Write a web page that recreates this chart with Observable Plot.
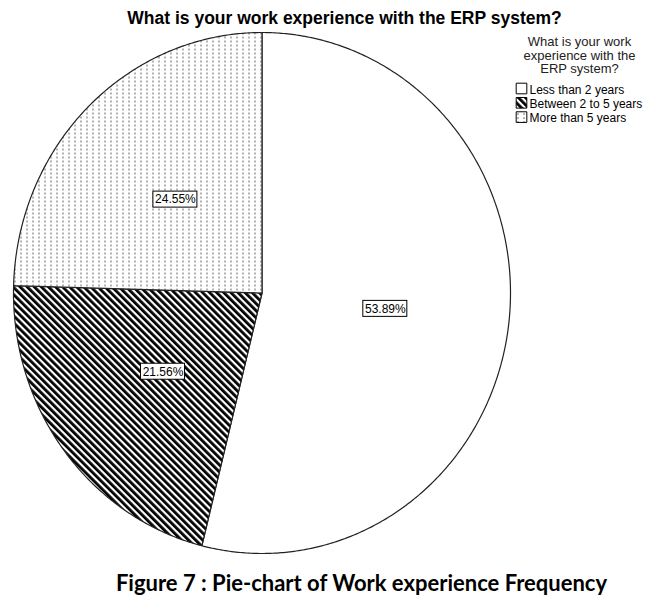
<!DOCTYPE html>
<html><head><meta charset="utf-8">
<script src="https://cdn.jsdelivr.net/npm/d3@7"></script>
<script src="https://cdn.jsdelivr.net/npm/@observablehq/plot@0.6"></script>
<style>body{margin:0;background:#fff}</style>
</head><body><div id="chart"></div>
<script>
const categories = ["Less than 2 years", "Between 2 to 5 years", "More than 5 years"];
const percents = [53.89, 21.56, 24.55];
const patterns = ["white", "url(#hatch)", "url(#dots)"];
const chartTitle = "What is your work experience with the ERP system?";
const legendTitle = "What is your work\nexperience with the\nERP system?";
const caption = "Figure 7 : Pie-chart of Work experience Frequency";

let cum = 0;
const slices = categories.map((c, i) => {
  const a0 = cum / 100 * 2 * Math.PI; cum += percents[i];
  const a1 = cum / 100 * 2 * Math.PI;
  return {category: c, value: percents[i], a0, a1, fill: patterns[i]};
});
function slicePoints(s) {
  const pts = [{x: 0, y: 0}];
  const n = Math.max(2, Math.ceil((s.a1 - s.a0) / (Math.PI / 360)));
  for (let k = 0; k <= n; k++) {
    const a = s.a0 + (s.a1 - s.a0) * k / n;
    pts.push({x: Math.sin(a), y: -Math.cos(a)});
  }
  pts.push({x: 0, y: 0});
  return pts;
}
const labels = slices.map(s => {
  const m = (s.a0 + s.a1) / 2;
  return {x: 0.5 * Math.sin(m), y: -0.5 * Math.cos(m), text: s.value.toFixed(2) + "%"};
});

const marks = [];
slices.forEach(s => marks.push(Plot.line(slicePoints(s), {x: "x", y: "y", fill: s.fill, stroke: "#222", strokeWidth: 1.2, strokeLinejoin: "round"})));
marks.push(Plot.rect(labels, {x1: "x", x2: "x", y1: "y", y2: "y", insetLeft: -22, insetRight: -22, insetTop: -8, insetBottom: -8, fill: "white", stroke: "#000", strokeWidth: 1}));
marks.push(Plot.text(labels, {x: "x", y: "y", text: "text", fontSize: 12, fill: "#000"}));
marks.push(Plot.text([chartTitle], {text: d => d, frameAnchor: "top-left", dx: 344, dy: 23, textAnchor: "middle", lineAnchor: "bottom", fontSize: 17.5, fontWeight: "bold", fill: "#000"}));
marks.push(Plot.text([legendTitle], {text: d => d, frameAnchor: "top-left", dx: 579, dy: 36, textAnchor: "middle", lineAnchor: "top", lineHeight: 1.05, fontSize: 13, fill: "#222"}));
categories.forEach((c, i) => {
  marks.push(Plot.dot([c], {frameAnchor: "top-left", dx: 521, dy: 88 + i * 14.3, symbol: "square", r: 6.0, fill: patterns[i], stroke: "#000", strokeWidth: 1}));
  marks.push(Plot.text([c], {text: d => d, frameAnchor: "top-left", dx: 529, dy: 93 + i * 14.3, textAnchor: "start", lineAnchor: "bottom", fontSize: 12, fill: "#000"}));
});
marks.push(Plot.text([caption], {text: d => d, frameAnchor: "top-left", dx: 361, dy: 590, textAnchor: "middle", lineAnchor: "bottom", fontSize: 22, fontWeight: "bold", fontFamily: "Lato, 'Noto Sans', sans-serif", fill: "#000"}));

const chart = Plot.plot({
  width: 654, height: 602,
  margin: 0,
  style: {fontFamily: "'Liberation Sans', Arial, sans-serif", background: "white"},
  x: {domain: [-1, 1], range: [13, 510], axis: null},
  y: {domain: [-1, 1], range: [32, 553], axis: null},
  marks
});
d3.select(chart).insert("defs", ":first-child").html(
  '<pattern id="hatch" width="5" height="5" patternUnits="userSpaceOnUse" patternTransform="rotate(-45)">' +
  '<rect width="5" height="5" fill="white"/><rect width="2.8" height="5" fill="black"/></pattern>' +
  '<pattern id="dots" width="6" height="4" patternUnits="userSpaceOnUse">' +
  '<rect width="6" height="4" fill="white"/><rect x="2" y="0" width="1" height="2" fill="#666"/></pattern>'
);
document.getElementById("chart").appendChild(chart);
</script>
</body></html>
